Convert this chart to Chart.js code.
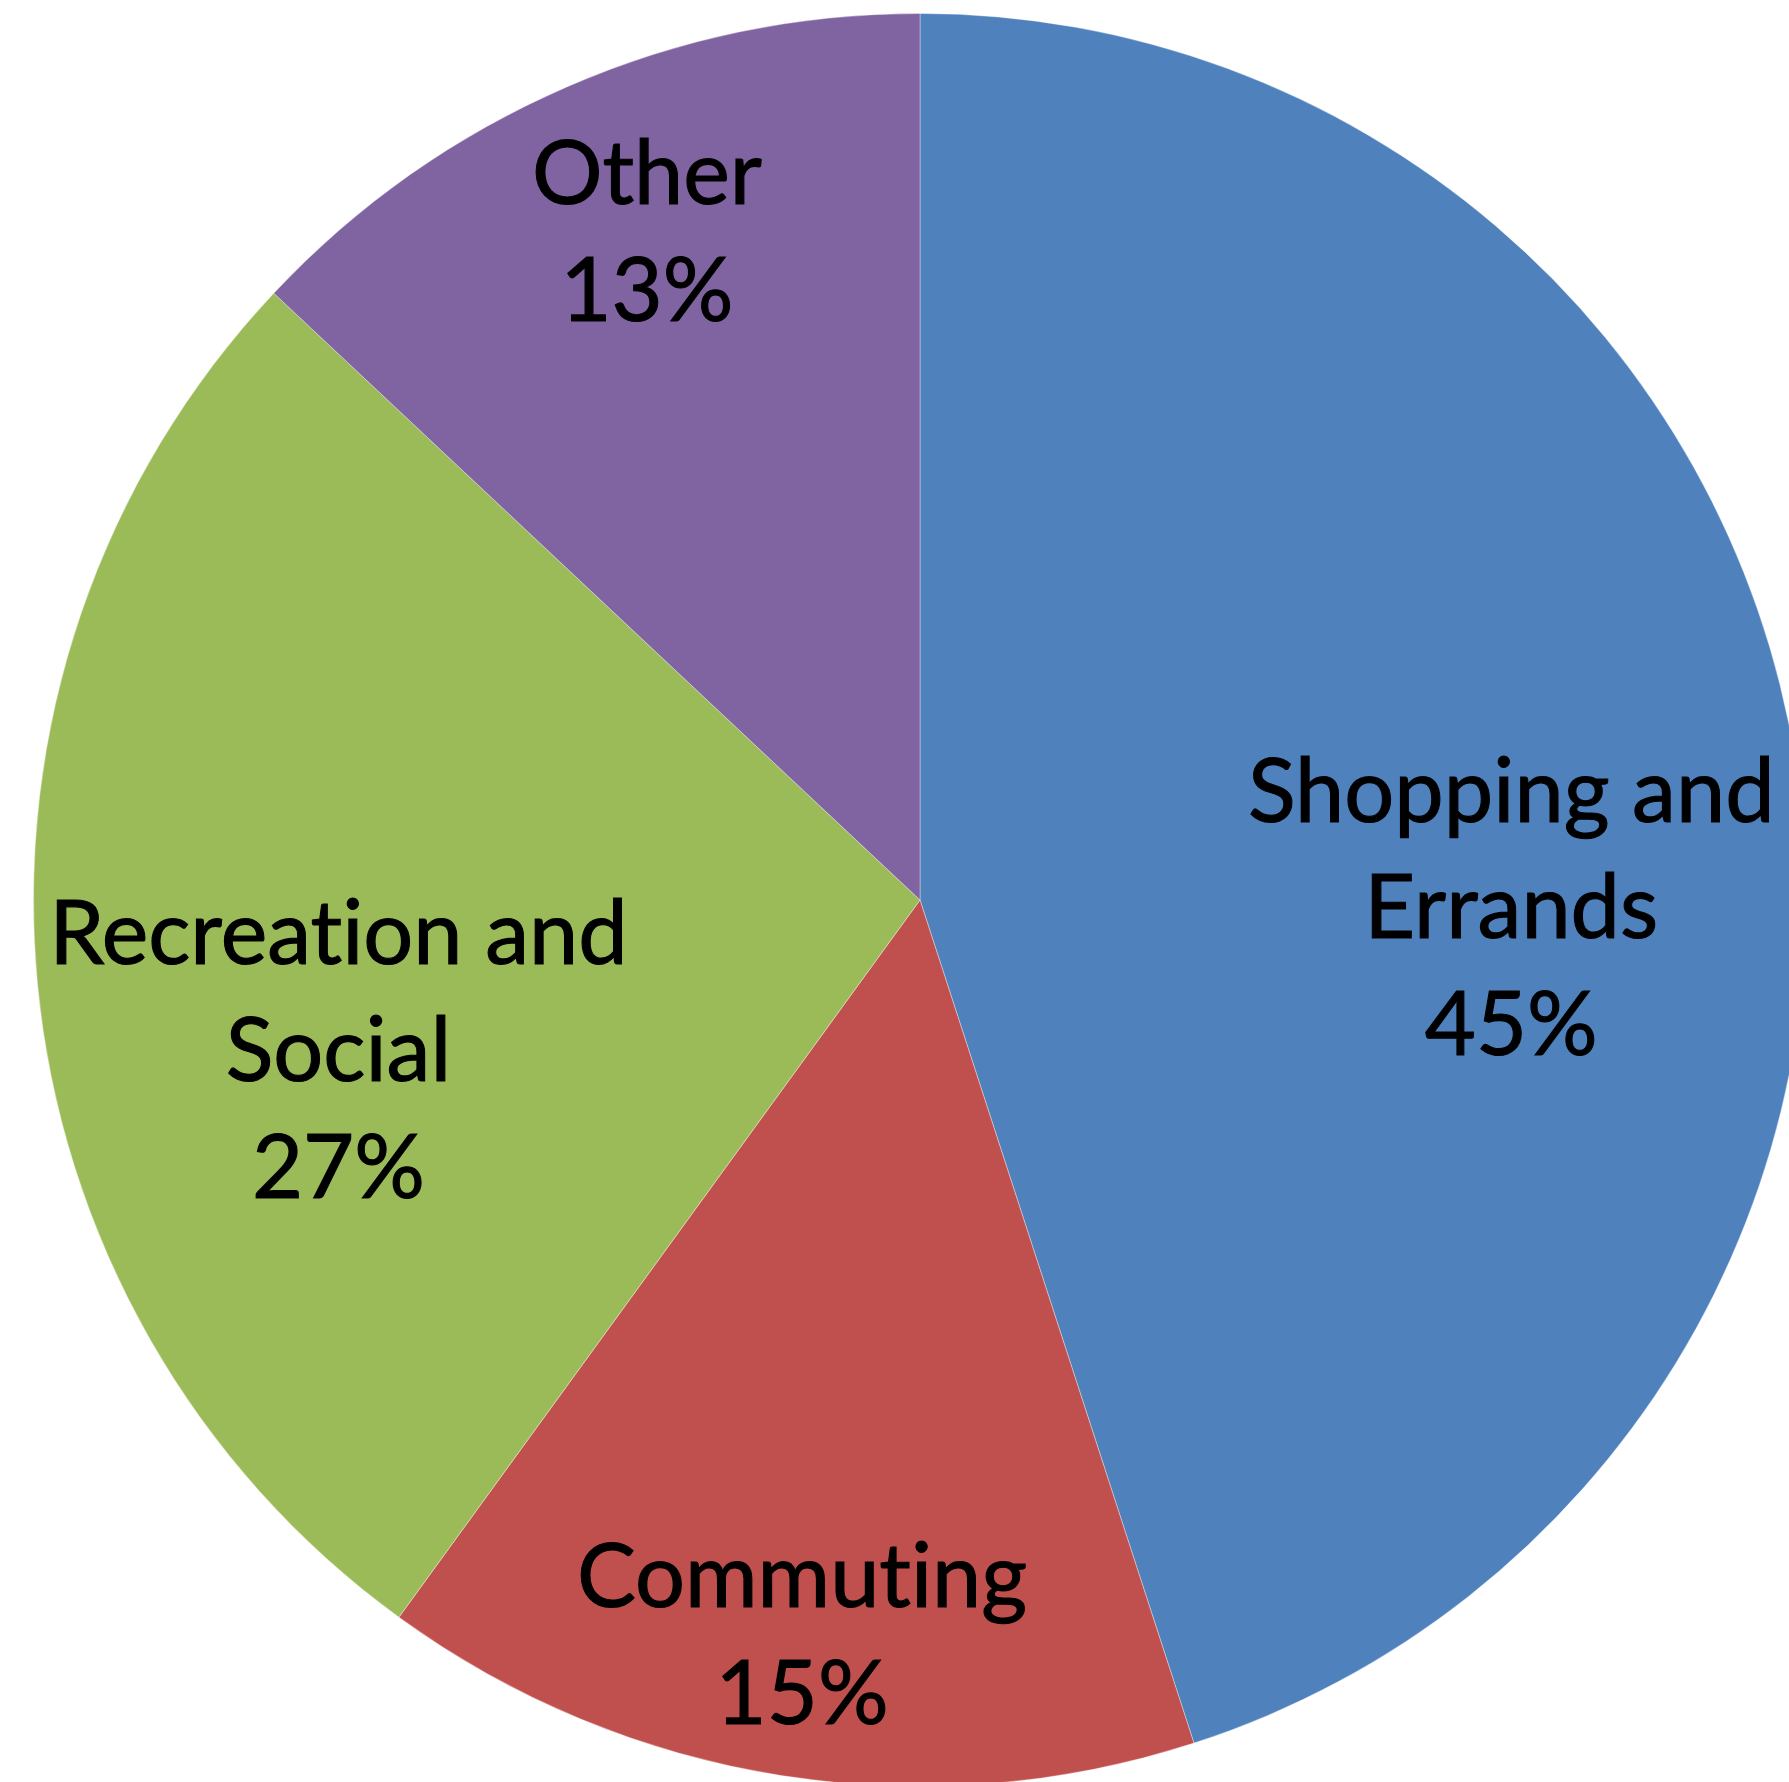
<!DOCTYPE html>
<html>
<head>
<meta charset="utf-8">
<script src="https://cdn.jsdelivr.net/npm/chart.js@4.4.1/dist/chart.umd.min.js"></script>
<style>
  html, body { margin: 0; padding: 0; background: #ffffff; }
  #frame { position: relative; width: 1789px; height: 1782px; overflow: hidden; background: #ffffff; }
  #wrap { position: absolute; left: 33px; top: 13px; width: 1774px; height: 1774px; }
  .lbl { position: absolute; white-space: nowrap; text-align: center; color: #000;
         font-family: Lato, 'Noto Sans', sans-serif; font-variant-ligatures: none;
         font-feature-settings: "liga" 0, "clig" 0; -webkit-text-stroke: 1.1px #000; }
  .lbl div { display: block; }
</style>
</head>
<body>
<div id="frame"><div id="wrap"><canvas id="c" width="1774" height="1774"></canvas></div></div>
<script>
// ---- data ----
const categories = ["Shopping and Errands", "Commuting", "Recreation and Social", "Other"];
const labelLines = [["Shopping and", "Errands"], ["Commuting"], ["Recreation and", "Social"], ["Other"]];
const shares = [45, 15, 27, 13];
const sliceColors = ["#4F81BD", "#C0504D", "#9BBB59", "#8064A2"];

// ---- layout (label anchors as fractions of radius: block centre x, first baseline y) ----
const labelAnchors = [[0.667, -0.088], [-0.133, 0.798], [-0.656, 0.073], [-0.308, -0.785]];
const FONT_FAMILY = "Lato, 'Noto Sans', sans-serif";
const REF_WIDTH_FRAC = 527 / 887;   // width of "Shopping and" relative to radius
const LINE_FRAC = 117 / 887;        // line spacing relative to radius

function placeLabels(chart) {
  const meta = chart.getDatasetMeta(0);
  const total = shares.reduce((a, b) => a + b, 0);
  const wrap = document.getElementById('wrap');
  wrap.querySelectorAll('.lbl').forEach(e => e.remove());
  const ctx = document.createElement('canvas').getContext('2d');
  ctx.font = "100px " + FONT_FAMILY;
  const r0 = meta.data[0].outerRadius;
  const size = 100 * (REF_WIDTH_FRAC * r0) / ctx.measureText(labelLines[0][0]).width;
  ctx.font = size + "px " + FONT_FAMILY;
  const m = ctx.measureText("Hg");
  const asc = m.fontBoundingBoxAscent, desc = m.fontBoundingBoxDescent;
  meta.data.forEach((arc, i) => {
    const r = arc.outerRadius;
    const L = LINE_FRAC * r;
    const x = arc.x + labelAnchors[i][0] * r;
    const baseY = arc.y + labelAnchors[i][1] * r;
    const top = baseY - ((L - (asc + desc)) / 2 + asc);
    const lines = labelLines[i].concat([Math.round(shares[i] / total * 100) + "%"]);
    const el = document.createElement('div');
    el.className = 'lbl';
    el.style.fontSize = size + 'px';
    el.style.lineHeight = L + 'px';
    el.style.top = top + 'px';
    el.style.left = x + 'px';
    el.style.transform = 'translateX(-50%)';
    lines.forEach(t => { const d = document.createElement('div'); d.textContent = t; el.appendChild(d); });
    wrap.appendChild(el);
  });
}

new Chart(document.getElementById('c'), {
  type: 'pie',
  data: {
    labels: categories,
    datasets: [{
      data: shares,
      backgroundColor: sliceColors,
      borderColor: 'rgba(255,255,255,0.35)',
      borderWidth: 1
    }]
  },
  options: {
    responsive: false,
    animation: false,
    layout: { padding: 0 },
    plugins: { legend: { display: false }, tooltip: { enabled: false } }
  },
  plugins: [{ id: 'htmlLabels', afterRender: placeLabels }]
});
</script>
</body>
</html>
